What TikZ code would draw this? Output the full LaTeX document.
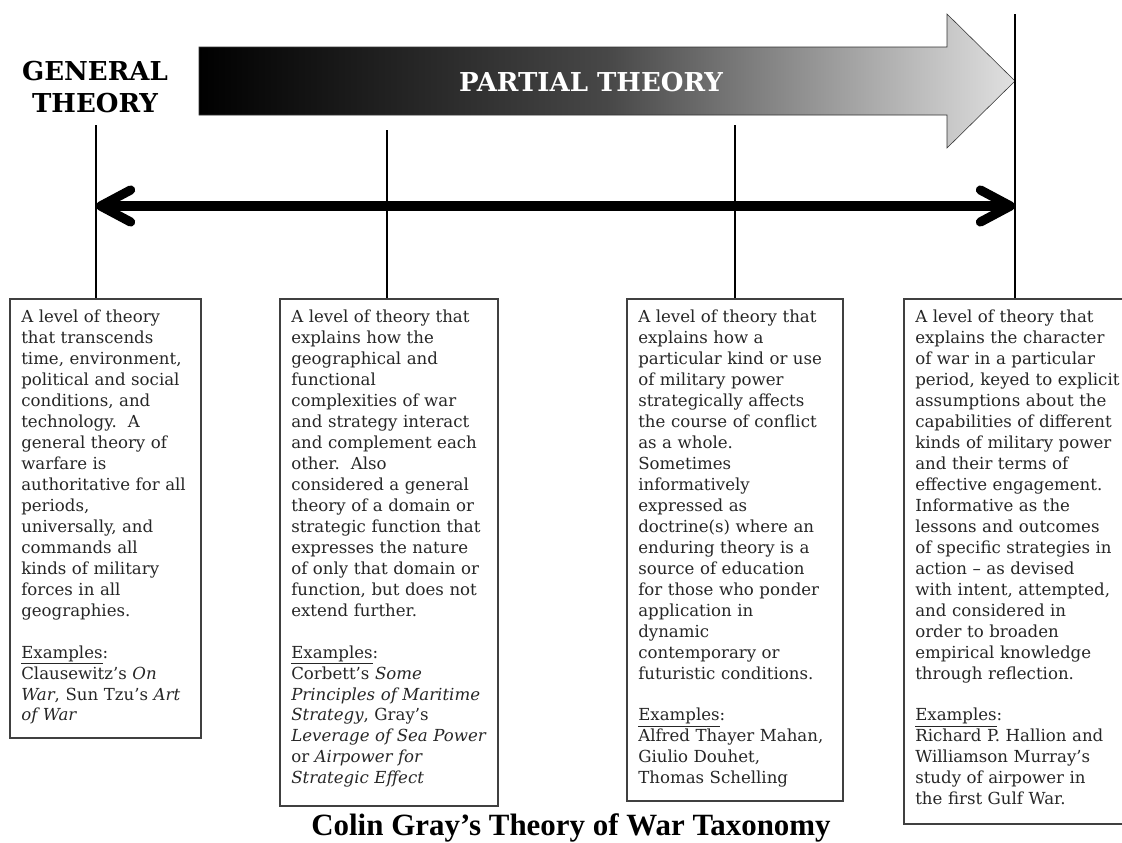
\documentclass[tikz,border=0pt]{standalone}
\usepackage{fontspec}
\setmainfont{DejaVu Serif}
\newfontfamily\capfont{Liberation Serif}
\usetikzlibrary{arrows.meta,positioning}

\begin{document}
\begin{tikzpicture}[
    x=0.025cm, y=-0.025cm,
    box/.style={draw=black!75, line width=1.2pt, rectangle, anchor=north west, fill=white},
    txt/.style={anchor=north west, inner sep=0pt, text width=5.6cm, align=left, text=black!85, font=\fontsize{11.8}{14.9}\selectfont},
    stem/.style={line width=1.4pt},
    head/.style={font=\bfseries\fontsize{18.5}{23.4}\selectfont, align=center},
    arrow/.style={line width=2.3mm, {Straight Barb[length=7.5mm, width=8mm, round]}-{Straight Barb[length=7.5mm, width=8mm, round]}}
]

\useasboundingbox[fill=white] (0,0) rectangle (1122,842);

% Partial theory arrow
\shade[left color=black, right color=black!12, middle color=black!72, draw=black!80, thin]
  (199,47) -- (947,47) -- (947,14) -- (1015,81) -- (947,148) -- (947,115) -- (199,115) -- cycle;
\node[head, text=white] (partial) at (591,82) {PARTIAL THEORY};

% General theory
\node[head] (general) at (95,87) {GENERAL\\THEORY};

% Boxes
\node[box, minimum width=4.775cm, minimum height=10.975cm] (box1) at (9,298) {};
\node[box, minimum width=5.45cm, minimum height=12.675cm] (box2) at (279,298) {};
\node[box, minimum width=5.4cm, minimum height=12.55cm] (box3) at (626,298) {};
\node[box, minimum width=5.75cm, minimum height=13.125cm] (box4) at (903,298) {};

% Box texts
\node[txt] (txt1) at ([shift={(0.3cm,-0.3cm)}]box1.north west) {%
A level of theory\\
that transcends\\
time, environment,\\
political and social\\
conditions, and\\
technology.\ \ A\\
general theory of\\
warfare is\\
authoritative for all\\
periods,\\
universally, and\\
commands all\\
kinds of military\\
forces in all\\
geographies.\\[14.9pt]
\underline{Examples}:\\
Clausewitz’s \textit{On}\\
\textit{War}, Sun Tzu’s \textit{Art}\\
\textit{of War}};

\node[txt] (txt2) at ([shift={(0.3cm,-0.3cm)}]box2.north west) {%
A level of theory that\\
explains how the\\
geographical and\\
functional\\
complexities of war\\
and strategy interact\\
and complement each\\
other.\ \ Also\\
considered a general\\
theory of a domain or\\
strategic function that\\
expresses the nature\\
of only that domain or\\
function, but does not\\
extend further.\\[14.9pt]
\underline{Examples}:\\
Corbett's \textit{Some}\\
\textit{Principles of Maritime}\\
\textit{Strategy}, Gray's\\
\textit{Leverage of Sea Power}\\
or \textit{Airpower for}\\
\textit{Strategic Effect}};

\node[txt] (txt3) at ([shift={(0.3cm,-0.3cm)}]box3.north west) {%
A level of theory that\\
explains how a\\
particular kind or use\\
of military power\\
strategically affects\\
the course of conflict\\
as a whole.\\
Sometimes\\
informatively\\
expressed as\\
doctrine(s) where an\\
enduring theory is a\\
source of education\\
for those who ponder\\
application in\\
dynamic\\
contemporary or\\
futuristic conditions.\\[14.9pt]
\underline{Examples}:\\
Alfred Thayer Mahan,\\
Giulio Douhet,\\
Thomas Schelling};

\node[txt] (txt4) at ([shift={(0.3cm,-0.3cm)}]box4.north west) {%
A level of theory that\\
explains the character\\
of war in a particular\\
period, keyed to explicit\\
assumptions about the\\
capabilities of different\\
kinds of military power\\
and their terms of\\
effective engagement.\\
Informative as the\\
lessons and outcomes\\
of specific strategies in\\
action – as devised\\
with intent, attempted,\\
and considered in\\
order to broaden\\
empirical knowledge\\
through reflection.\\[14.9pt]
\underline{Examples}:\\
Richard P. Hallion and\\
Williamson Murray’s\\
study of airpower in\\
the first Gulf War.};

% Stems
\coordinate (t1) at (96,125);
\coordinate (t2) at (387,130);
\coordinate (t3) at (735,125);
\coordinate (t4) at (1015,14);
\foreach \i in {1,...,4}
    \draw[stem] (t\i) -- (t\i |- box\i.north);

% Double arrow
\coordinate (left) at (96,206);
\coordinate (right) at (1015,206);
\draw[arrow] (left) -- (right);

% Caption
\node[font=\capfont\bfseries\fontsize{22}{26}\selectfont, anchor=base] (caption) at (571,835) {Colin Gray’s Theory of War Taxonomy};

\end{tikzpicture}
\end{document}
